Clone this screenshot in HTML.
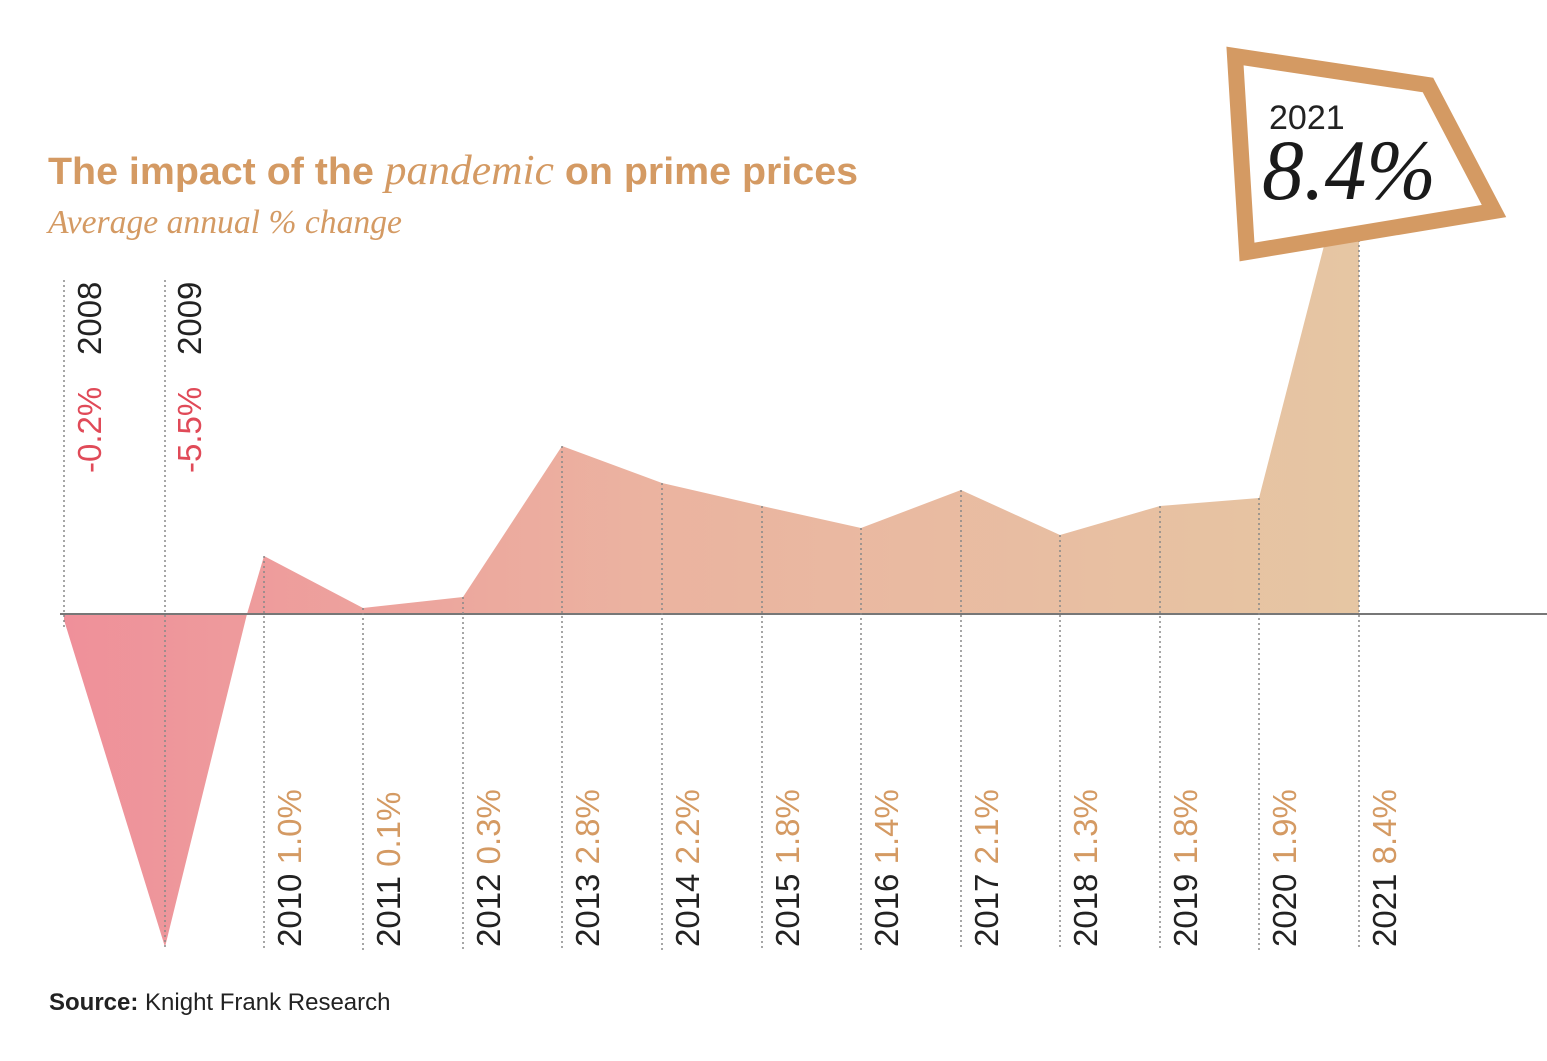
<!DOCTYPE html>
<html><head><meta charset="utf-8"><style>
body{margin:0;background:#fff;}
svg{display:block}
</style></head><body>
<svg width="1547" height="1061" viewBox="0 0 1547 1061" xmlns="http://www.w3.org/2000/svg">
<defs>
<linearGradient id="g" x1="64" y1="0" x2="1359" y2="0" gradientUnits="userSpaceOnUse">
<stop offset="0" stop-color="#ef909a"/>
<stop offset="0.45" stop-color="#ebb3a0"/>
<stop offset="1" stop-color="#e6c6a3"/>
</linearGradient>
</defs>
<text x="48" y="184" font-family="Liberation Sans, sans-serif" font-size="38" font-weight="bold" fill="#d49a63" textLength="810" lengthAdjust="spacingAndGlyphs">The impact of the <tspan font-family="Liberation Serif, serif" font-style="italic" font-weight="normal" font-size="42">pandemic</tspan> on prime prices</text>
<text x="48" y="233" font-family="Liberation Serif, serif" font-style="italic" font-size="34" fill="#d49a63" textLength="354" lengthAdjust="spacingAndGlyphs">Average annual % change</text>

<polygon fill="url(#g)" points="64,614 64,620 165,947 247,614 264,556 363,608 463,597 562,446 662,483 762,506 861,528 961,490 1060,535 1160,506 1259,498 1359,110 1359,614"/>
<line x1="60" y1="614" x2="1547" y2="614" stroke="#777" stroke-width="2"/>
<g stroke="#888" stroke-width="1.5" stroke-dasharray="2,3">
<line x1="64" y1="280" x2="64" y2="630"/>
<line x1="165" y1="280" x2="165" y2="947"/>
<line x1="264" y1="556" x2="264" y2="950"/>
<line x1="363" y1="608" x2="363" y2="950"/>
<line x1="463" y1="597" x2="463" y2="950"/>
<line x1="562" y1="446" x2="562" y2="950"/>
<line x1="662" y1="483" x2="662" y2="950"/>
<line x1="762" y1="506" x2="762" y2="950"/>
<line x1="861" y1="528" x2="861" y2="950"/>
<line x1="961" y1="490" x2="961" y2="950"/>
<line x1="1060" y1="535" x2="1060" y2="950"/>
<line x1="1160" y1="506" x2="1160" y2="950"/>
<line x1="1259" y1="498" x2="1259" y2="950"/>
<line x1="1359" y1="240" x2="1359" y2="950"/>
</g>
<g font-family="Liberation Sans, sans-serif" font-size="33">
<text transform="translate(101,473) rotate(-90)" fill="#e04a58">-0.2%</text>
<text transform="translate(101,355) rotate(-90)" fill="#222">2008</text>
<text transform="translate(201,473) rotate(-90)" fill="#e04a58">-5.5%</text>
<text transform="translate(201,355) rotate(-90)" fill="#222">2009</text>
<text transform="translate(301,947) rotate(-90)"><tspan fill="#222">2010</tspan><tspan fill="#d49a63">  1.0%</tspan></text>
<text transform="translate(400,947) rotate(-90)"><tspan fill="#222">2011</tspan><tspan fill="#d49a63">  0.1%</tspan></text>
<text transform="translate(500,947) rotate(-90)"><tspan fill="#222">2012</tspan><tspan fill="#d49a63">  0.3%</tspan></text>
<text transform="translate(599,947) rotate(-90)"><tspan fill="#222">2013</tspan><tspan fill="#d49a63">  2.8%</tspan></text>
<text transform="translate(699,947) rotate(-90)"><tspan fill="#222">2014</tspan><tspan fill="#d49a63">  2.2%</tspan></text>
<text transform="translate(799,947) rotate(-90)"><tspan fill="#222">2015</tspan><tspan fill="#d49a63">  1.8%</tspan></text>
<text transform="translate(898,947) rotate(-90)"><tspan fill="#222">2016</tspan><tspan fill="#d49a63">  1.4%</tspan></text>
<text transform="translate(998,947) rotate(-90)"><tspan fill="#222">2017</tspan><tspan fill="#d49a63">  2.1%</tspan></text>
<text transform="translate(1097,947) rotate(-90)"><tspan fill="#222">2018</tspan><tspan fill="#d49a63">  1.3%</tspan></text>
<text transform="translate(1197,947) rotate(-90)"><tspan fill="#222">2019</tspan><tspan fill="#d49a63">  1.8%</tspan></text>
<text transform="translate(1296,947) rotate(-90)"><tspan fill="#222">2020</tspan><tspan fill="#d49a63">  1.9%</tspan></text>
<text transform="translate(1396,947) rotate(-90)"><tspan fill="#222">2021</tspan><tspan fill="#d49a63">  8.4%</tspan></text>
</g>
<polygon points="1235,56 1428,85 1494,211 1247,252" fill="#fff" stroke="#d49a63" stroke-width="16" stroke-linejoin="miter"/>
<text x="1269" y="129" font-family="Liberation Sans, sans-serif" font-size="34" fill="#222">2021</text>
<text x="1262" y="199" font-family="Liberation Serif, serif" font-style="italic" font-size="86" fill="#1a1a1a" textLength="174" lengthAdjust="spacingAndGlyphs">8.4%</text>
<text x="49" y="1010" font-family="Liberation Sans, sans-serif" font-size="24" fill="#222"><tspan font-weight="bold">Source:</tspan> Knight Frank Research</text>
</svg>
</body></html>
